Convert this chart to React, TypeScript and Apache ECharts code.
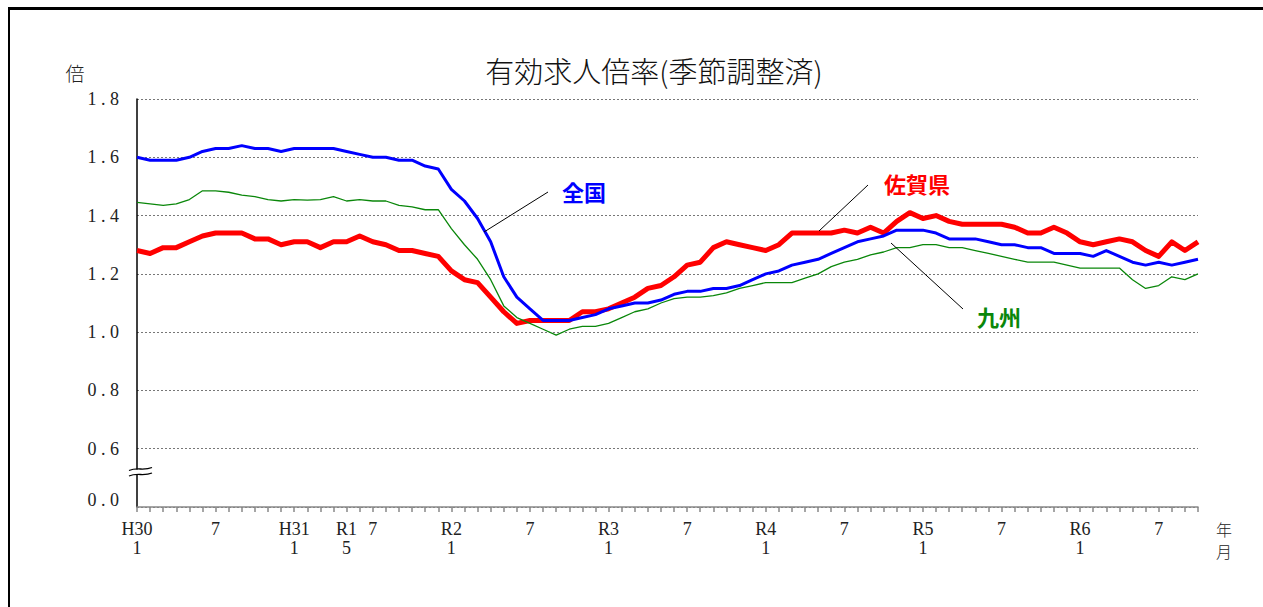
import React, { useEffect, useRef } from "react";
import * as echarts from "echarts";

// Months Jan 2018 (H30.1) .. Oct 2024 (R6.10)
const startYear = 2018;
const monthCount = 82;
const categories: string[] = [];
for (let i = 0; i < monthCount; i++) {
  const y = startYear + Math.floor(i / 12);
  const m = (i % 12) + 1;
  categories.push(`${y}-${m < 10 ? "0" + m : m}`);
}

const tickLabels: Record<string, string> = {
  "2018-01": "H30\n1",
  "2018-07": "7",
  "2019-01": "H31\n1",
  "2019-05": "R1\n5",
  "2019-07": "7",
  "2020-01": "R2\n1",
  "2020-07": "7",
  "2021-01": "R3\n1",
  "2021-07": "7",
  "2022-01": "R4\n1",
  "2022-07": "7",
  "2023-01": "R5\n1",
  "2023-07": "7",
  "2024-01": "R6\n1",
  "2024-07": "7",
};

const zenkoku = [
  1.60, 1.59, 1.59, 1.59, 1.60, 1.62, 1.63, 1.63, 1.64, 1.63, 1.63, 1.62,
  1.63, 1.63, 1.63, 1.63, 1.62, 1.61, 1.60, 1.60, 1.59, 1.59, 1.57, 1.56,
  1.49, 1.45, 1.39, 1.31, 1.19, 1.12, 1.08, 1.04, 1.04, 1.04, 1.05, 1.06,
  1.08, 1.09, 1.10, 1.10, 1.11, 1.13, 1.14, 1.14, 1.15, 1.15, 1.16, 1.18,
  1.20, 1.21, 1.23, 1.24, 1.25, 1.27, 1.29, 1.31, 1.32, 1.33, 1.35, 1.35,
  1.35, 1.34, 1.32, 1.32, 1.32, 1.31, 1.30, 1.30, 1.29, 1.29, 1.27, 1.27,
  1.27, 1.26, 1.28, 1.26, 1.24, 1.23, 1.24, 1.23, 1.24, 1.25,
];

const saga = [
  1.28, 1.27, 1.29, 1.29, 1.31, 1.33, 1.34, 1.34, 1.34, 1.32, 1.32, 1.30,
  1.31, 1.31, 1.29, 1.31, 1.31, 1.33, 1.31, 1.30, 1.28, 1.28, 1.27, 1.26,
  1.21, 1.18, 1.17, 1.12, 1.07, 1.03, 1.04, 1.04, 1.04, 1.04, 1.07, 1.07,
  1.08, 1.10, 1.12, 1.15, 1.16, 1.19, 1.23, 1.24, 1.29, 1.31, 1.30, 1.29,
  1.28, 1.30, 1.34, 1.34, 1.34, 1.34, 1.35, 1.34, 1.36, 1.34, 1.38, 1.41,
  1.39, 1.40, 1.38, 1.37, 1.37, 1.37, 1.37, 1.36, 1.34, 1.34, 1.36, 1.34,
  1.31, 1.30, 1.31, 1.32, 1.31, 1.28, 1.26, 1.31, 1.28, 1.31,
];

const kyushu = [
  1.445, 1.44, 1.435, 1.44, 1.455, 1.485, 1.485, 1.48, 1.47, 1.465, 1.455, 1.45,
  1.455, 1.453, 1.455, 1.465, 1.45, 1.455, 1.45, 1.45, 1.435, 1.43, 1.42, 1.42,
  1.355, 1.30, 1.25, 1.18, 1.09, 1.05, 1.03, 1.01, 0.99, 1.01, 1.02, 1.02,
  1.03, 1.05, 1.07, 1.08, 1.10, 1.115, 1.12, 1.12, 1.125, 1.135, 1.15, 1.16,
  1.17, 1.17, 1.17, 1.185, 1.20, 1.225, 1.24, 1.25, 1.265, 1.275, 1.29, 1.29,
  1.30, 1.30, 1.29, 1.29, 1.28, 1.27, 1.26, 1.25, 1.24, 1.24, 1.24, 1.23,
  1.22, 1.22, 1.22, 1.22, 1.18, 1.15, 1.16, 1.19, 1.18, 1.20,
];

const SERIF = "'Liberation Serif', 'DejaVu Serif', serif";
const CJK = "'Noto Sans CJK JP', sans-serif";

export default function App() {
  const ref = useRef<HTMLDivElement>(null);

  useEffect(() => {
    if (!ref.current) return;
    const chart = echarts.init(ref.current, null, { renderer: "svg" });
    chart.setOption({
      animation: false,
      backgroundColor: "#ffffff",
      grid: { left: 137, right: 65, top: 99, bottom: 100, containLabel: false },
      xAxis: {
        type: "category",
        data: categories,
        boundaryGap: false,
        axisLine: { show: true, lineStyle: { color: "#888888", width: 1.5 } },
        axisTick: { show: true, interval: 0, length: 5, lineStyle: { color: "#888888", width: 1.5 } },
        axisLabel: {
          interval: (idx: number, val: string) => tickLabels[val] !== undefined,
          formatter: (val: string) => tickLabels[val] || "",
          fontFamily: SERIF,
          fontSize: 18,
          color: "#222222",
          lineHeight: 19,
          margin: 12,
        },
        splitLine: { show: false },
      },
      yAxis: {
        type: "value",
        min: 0.4,
        max: 1.8,
        interval: 0.2,
        axisLine: { show: true, lineStyle: { color: "#000000", width: 1.5 } },
        axisTick: { show: false },
        axisLabel: {
          margin: 18,
          fontFamily: SERIF,
          fontSize: 18,
          color: "#222222",
          formatter: (v: number) => {
            if (v < 0.5) return "{z|0 . 0}";
            return v.toFixed(1).split("").join(" ");
          },
          rich: {
            z: { fontFamily: SERIF, fontSize: 18, color: "#222222", padding: [0, 0, 14, 0] },
          },
        },
        splitLine: { show: true, lineStyle: { color: "#777777", type: [2, 2], width: 1 } },
      },
      series: [
        {
          name: "佐賀県",
          type: "line",
          data: saga,
          symbol: "none",
          lineStyle: { color: "#ff0000", width: 5, join: "round" },
          z: 2,
        },
        {
          name: "全国",
          type: "line",
          data: zenkoku,
          symbol: "none",
          lineStyle: { color: "#0000ff", width: 3, join: "round" },
          z: 3,
        },
        {
          name: "九州",
          type: "line",
          data: kyushu,
          symbol: "none",
          lineStyle: { color: "#0a870a", width: 1.3, join: "round" },
          z: 4,
        },
      ],
      graphic: [
        { type: "line", shape: { x1: 8, y1: 8.5, x2: 1263, y2: 8.5 }, style: { stroke: "#000", lineWidth: 3 } },
        { type: "line", shape: { x1: 9, y1: 8, x2: 9, y2: 607 }, style: { stroke: "#000", lineWidth: 2 } },
        {
          type: "text",
          x: 654,
          y: 70,
          style: { text: "有効求人倍率(季節調整済)", font: `300 29px ${CJK}`, fill: "#111", textAlign: "center", textVerticalAlign: "middle" },
        },
        { type: "text", x: 75, y: 72, style: { text: "倍", font: `300 19px ${CJK}`, fill: "#222", textAlign: "center", textVerticalAlign: "middle" } },
        { type: "text", x: 1224, y: 529, style: { text: "年", font: `300 16px ${CJK}`, fill: "#222", textAlign: "center", textVerticalAlign: "middle" } },
        { type: "text", x: 1224, y: 551, style: { text: "月", font: `300 16px ${CJK}`, fill: "#222", textAlign: "center", textVerticalAlign: "middle" } },
        // axis break
        { type: "rect", shape: { x: 132, y: 469.5, width: 10, height: 5 }, style: { fill: "#fff" }, z: 100 },
        {
          type: "bezierCurve",
          shape: { x1: 129, y1: 470.5, x2: 152, y2: 467.5, cpx1: 137, cpy1: 467, cpx2: 144, cpy2: 471 },
          style: { stroke: "#000", lineWidth: 1.3, fill: null },
          z: 101,
        },
        {
          type: "bezierCurve",
          shape: { x1: 129, y1: 476, x2: 152, y2: 473, cpx1: 137, cpy1: 472.5, cpx2: 144, cpy2: 476.5 },
          style: { stroke: "#000", lineWidth: 1.3, fill: null },
          z: 101,
        },
        // annotations
        { type: "line", shape: { x1: 548, y1: 192, x2: 484, y2: 232 }, style: { stroke: "#000", lineWidth: 1 }, z: 50 },
        { type: "line", shape: { x1: 868, y1: 185, x2: 819, y2: 231 }, style: { stroke: "#000", lineWidth: 1 }, z: 50 },
        { type: "line", shape: { x1: 891, y1: 243, x2: 963, y2: 309 }, style: { stroke: "#000", lineWidth: 1 }, z: 50 },
        { type: "text", x: 584, y: 191, style: { text: "全国", font: `bold 22px ${CJK}`, fill: "#0000ff", textAlign: "center", textVerticalAlign: "middle" }, z: 50 },
        { type: "text", x: 917, y: 183, style: { text: "佐賀県", font: `bold 22px ${CJK}`, fill: "#ff0000", textAlign: "center", textVerticalAlign: "middle" }, z: 50 },
        { type: "text", x: 999, y: 316, style: { text: "九州", font: `bold 22px ${CJK}`, fill: "#0a870a", textAlign: "center", textVerticalAlign: "middle" }, z: 50 },
      ],
    });
    return () => chart.dispose();
  }, []);

  return (
    <div
      ref={ref}
      style={{ position: "fixed", left: 0, top: 0, width: 1263, height: 607, background: "#fff" }}
    />
  );
}
